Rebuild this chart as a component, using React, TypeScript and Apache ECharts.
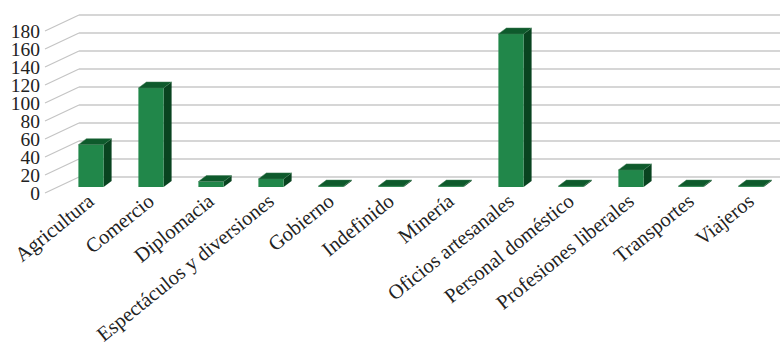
import React, { useEffect, useRef } from "react";
import * as echarts from "echarts";

const categories = [
  "Agricultura",
  "Comercio",
  "Diplomacia",
  "Espectáculos y diversiones",
  "Gobierno",
  "Indefinido",
  "Minería",
  "Oficios artesanales",
  "Personal doméstico",
  "Profesiones liberales",
  "Transportes",
  "Viajeros",
];
const values = [47, 110, 6, 9, 1, 1, 1, 170, 1, 19, 1, 1];
const yTicks = [0, 20, 40, 60, 80, 100, 120, 140, 160, 180];

const FRONT = "#21874a";
const TOP = "#0e5a2c";
const SIDE = "#094420";
const FONT = "Liberation Serif";

export default function App() {
  const ref = useRef<HTMLDivElement>(null);
  useEffect(() => {
    if (!ref.current) return;
    const chart = echarts.init(ref.current, null, { renderer: "svg" });
    const dx = 8;
    const dy = -6;
    const option: any = {
      animation: false,
      backgroundColor: "#ffffff",
      grid: [
        { left: 61, right: 0, top: 25, bottom: 159, containLabel: false, outerBoundsMode: "none" },
        { left: 79, right: 1, top: 15, bottom: 169, containLabel: false, outerBoundsMode: "none" },
        { left: 45, right: 1, top: 31, bottom: 153, containLabel: false, outerBoundsMode: "none" },
      ],
      xAxis: [
        {
          type: "category",
          gridIndex: 0,
          data: categories,
          axisLine: { show: false },
          axisTick: { show: false },
          axisLabel: {
            rotate: 39,
            interval: 0,
            margin: 11,
            fontFamily: FONT,
            fontSize: 20.5,
            color: "#222222",
            hideOverlap: false,
          },
        },
        { type: "value", gridIndex: 1, min: 0, max: 1, show: false },
        { type: "value", gridIndex: 2, min: 0, max: 1, show: false },
      ],
      yAxis: [
        { type: "value", gridIndex: 0, min: 0, max: 180, interval: 20, show: false },
        {
          type: "value",
          gridIndex: 1,
          min: 0,
          max: 180,
          interval: 20,
          axisLine: { show: false },
          axisTick: { show: false },
          axisLabel: { show: false },
          splitLine: { show: true, lineStyle: { color: "#c9c9c9", width: 1.5 } },
        },
        { type: "value", gridIndex: 2, min: 0, max: 180, interval: 20, show: false },
      ],
      series: [
        {
          type: "custom",
          xAxisIndex: 1,
          yAxisIndex: 1,
          silent: true,
          data: yTicks.map((t) => [0, t]),
          renderItem: (params: any, api: any) => {
            const p = api.coord([api.value(0), api.value(1)]);
            return {
              type: "line",
              shape: { x1: p[0], y1: p[1], x2: p[0] - 34, y2: p[1] + 16 },
              style: { stroke: "#c4c4c4", lineWidth: 1.2 },
            };
          },
        },
        {
          type: "custom",
          xAxisIndex: 2,
          yAxisIndex: 2,
          silent: true,
          data: yTicks.map((t) => [0, t]),
          renderItem: (params: any, api: any) => {
            const t = api.value(1);
            const p = api.coord([0, t]);
            return {
              type: "text",
              x: p[0] - 5,
              y: p[1],
              style: {
                text: String(t),
                textAlign: "right",
                textVerticalAlign: "middle",
                fontFamily: FONT,
                fontSize: 19.5,
                fill: "#222222",
              },
            };
          },
        },
        {
          type: "custom",
          xAxisIndex: 0,
          yAxisIndex: 0,
          data: values.map((v, i) => [i, v]),
          encode: { x: 0, y: 1 },
          renderItem: (params: any, api: any) => {
            const i = api.value(0);
            const v = api.value(1);
            const topPt = api.coord([i, v]);
            const basePt = api.coord([i, 0]);
            const w = api.size([1, 0])[0] * 0.42;
            const cx = topPt[0];
            const x0 = cx - w / 2;
            const x1 = cx + w / 2;
            const yt = topPt[1];
            const yb = basePt[1];
            return {
              type: "group",
              children: [
                {
                  type: "polygon",
                  shape: {
                    points: [
                      [x1, yt],
                      [x1 + dx, yt + dy],
                      [x1 + dx, yb + dy],
                      [x1, yb],
                    ],
                  },
                  style: { fill: SIDE },
                },
                {
                  type: "rect",
                  shape: { x: x0, y: yt, width: w, height: yb - yt },
                  style: { fill: FRONT },
                },
                {
                  type: "polygon",
                  shape: {
                    points: [
                      [x0, yt],
                      [x1, yt],
                      [x1 + dx, yt + dy],
                      [x0 + dx, yt + dy],
                    ],
                  },
                  style: { fill: TOP, stroke: "#3c7a52", lineWidth: 0.5 },
                },
              ],
            };
          },
        },
      ],
    };
    chart.setOption(option);
    return () => chart.dispose();
  }, []);
  return (
    <div
      ref={ref}
      style={{ position: "absolute", left: 0, top: 0, width: 781, height: 346 }}
    />
  );
}
